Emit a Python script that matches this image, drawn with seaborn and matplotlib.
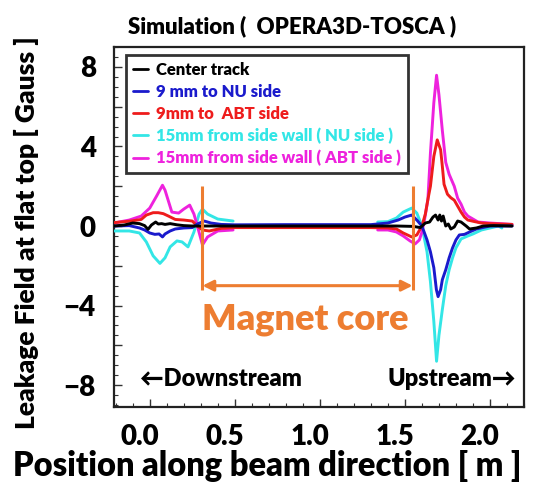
import numpy as np
import pandas as pd
import matplotlib
matplotlib.use("Agg")
import matplotlib.pyplot as plt
import seaborn as sns
from matplotlib.lines import Line2D
from matplotlib.transforms import ScaledTranslation
from matplotlib.ticker import MultipleLocator

# ---------------- data ----------------
series_names = ["Center track", "9 mm to NU side", "9mm to  ABT side",
                "15mm from side wall ( NU side )", "15mm from side wall ( ABT side )"]
series_colors = ["#000000", "#1a1acc", "#ee1c1c", "#33e6e6", "#ee22dd"]

center_x = [-0.21, -0.15, -0.10, -0.06, -0.03, -0.01, 0.01, 0.035, 0.05, 0.07, 0.09, 0.12, 0.16,
            0.20, 0.25, 0.30, 0.40, 0.60, 0.90, 1.20, 1.45, 1.55, 1.59, 1.62, 1.645, 1.665, 1.68,
            1.695, 1.705, 1.715, 1.725, 1.74, 1.755, 1.77, 1.79, 1.81, 1.83, 1.86, 1.88, 1.92,
            1.96, 2.02, 2.13]
center_y = [0.0, 0.05, 0.15, 0.12, 0.02, -0.17, 0.05, 0.2, 0.1, 0.12, 0.08, 0.12, 0.06,
            0.02, 0.0, 0.0, 0.0, 0.0, 0.0, 0.0, 0.0, -0.02, -0.08, 0.15, 0.2, 0.45, 0.55,
            0.3, 0.55, 0.25, 0.5, 0.0, 0.1, -0.15, -0.05, 0.25, 0.2, 0.0, -0.15, -0.1,
            0.0, 0.02, 0.0]

nu9_x = [-0.21, -0.12, -0.06, -0.03, 0.0, 0.03, 0.055, 0.075, 0.09, 0.12, 0.15, 0.20, 0.25,
         0.28, 0.32, 0.36, 0.42, 0.50, 0.80, 1.10, 1.30, 1.40, 1.46, 1.50, 1.54, 1.57, 1.60,
         1.63, 1.65, 1.67, 1.685, 1.695, 1.71, 1.72, 1.74, 1.76, 1.78, 1.80, 1.82, 1.85, 1.88,
         1.92, 2.00, 2.13]
nu9_y = [0.0, 0.02, -0.1, -0.2, -0.35, -0.42, -0.4, -0.55, -0.4, -0.25, -0.15, -0.1, -0.08,
         0.1, 0.25, 0.15, 0.08, 0.06, 0.07, 0.07, 0.07, 0.15, 0.3, 0.45, 0.55, 0.3, 0.0,
         -0.7, -1.3, -2.1, -3.2, -3.55, -3.2, -2.7, -2.2, -1.6, -1.1, -0.7, -0.45, -0.42, -0.3,
         -0.15, 0.0, 0.0]

abt9_x = [-0.21, -0.11, -0.05, -0.02, 0.02, 0.05, 0.08, 0.11, 0.15, 0.20, 0.25, 0.28, 0.31,
          0.35, 0.42, 0.50, 0.80, 1.10, 1.30, 1.40, 1.45, 1.49, 1.54, 1.57, 1.60, 1.62, 1.635,
          1.65, 1.67, 1.69, 1.71, 1.72, 1.73, 1.75, 1.77, 1.79, 1.81, 1.83, 1.85, 1.87, 1.91,
          1.95, 2.00, 2.13]
abt9_y = [0.17, 0.25, 0.33, 0.55, 0.67, 0.67, 0.62, 0.5, 0.33, 0.3, 0.25, 0.0, -0.2,
          -0.25, -0.12, -0.08, -0.08, -0.08, -0.08, -0.1, -0.15, -0.35, -0.55, -0.45, 0.0, 0.6, 1.33,
          2.0, 3.5, 4.33, 3.83, 3.0, 2.1, 1.6, 1.42, 1.3, 1.0, 0.7, 0.45, 0.3, 0.22,
          0.15, 0.12, 0.08]

nu15_left_x = [-0.21, -0.12, -0.06, -0.02, 0.02, 0.06, 0.09, 0.12, 0.16, 0.19, 0.225, 0.26,
               0.29, 0.31, 0.34, 0.40, 0.49]
nu15_left_y = [-0.25, -0.25, -0.35, -0.8, -1.5, -1.88, -1.6, -1.05, -0.75, -0.8, -1.05, -0.3,
               0.6, 0.85, 0.6, 0.35, 0.25]
nu15_right_x = [1.34, 1.40, 1.45, 1.49, 1.54, 1.57, 1.60, 1.63, 1.65, 1.67, 1.686, 1.70, 1.72,
                1.74, 1.76, 1.78, 1.80, 1.83, 1.87, 1.90, 1.95, 2.00, 2.05, 2.07]
nu15_right_y = [0.2, 0.22, 0.4, 0.7, 0.9, 0.65, 0.0, -1.3, -2.8, -4.8, -6.8, -5.5, -4.2,
                -3.0, -2.2, -1.6, -1.1, -0.65, -0.5, -0.4, -0.2, -0.1, 0.0, -0.1]

abt15_left_x = [-0.21, -0.12, -0.05, 0.0, 0.04, 0.075, 0.09, 0.13, 0.17, 0.20, 0.235, 0.26,
                0.28, 0.31, 0.34, 0.40, 0.49]
abt15_left_y = [0.15, 0.3, 0.5, 0.9, 1.5, 2.05, 1.8, 0.7, 0.65, 0.85, 1.05, 0.6,
                0.0, -0.95, -0.55, -0.25, -0.2]
abt15_right_x = [1.34, 1.40, 1.45, 1.49, 1.53, 1.56, 1.585, 1.60, 1.615, 1.635, 1.65, 1.67,
                 1.686, 1.70, 1.72, 1.74, 1.76, 1.79, 1.81, 1.83, 1.85, 1.87, 1.90, 1.93,
                 2.00, 2.13]
abt15_right_y = [-0.2, -0.2, -0.3, -0.5, -0.75, -0.9, -0.7, -0.3, 0.3, 1.33, 3.67, 6.2,
                 7.58, 6.6, 4.8, 3.2, 2.6, 2.0, 1.4, 1.1, 0.7, 0.5, 0.35, 0.2,
                 0.15, 0.08]

x_tick_values = [0.0, 0.5, 1.0, 1.5, 2.0]
x_tick_labels = ["0.0", "0.5", "1.0", "1.5", "2.0"]
y_tick_values = [-8, -6, -4, -2, 0, 2, 4, 6, 8]
y_tick_labels = ["\u22128", "", "\u22124", "", "0", "", "4", "", "8"]

core_edges = [0.31, 1.545]
core_line_span = (-3.2, 2.0)
core_arrow_y = -3.0

# ---------------- build table ----------------
segments = [
    (series_names[0], "c", center_x, center_y),
    (series_names[1], "b", nu9_x, nu9_y),
    (series_names[2], "r", abt9_x, abt9_y),
    (series_names[3], "cl", nu15_left_x, nu15_left_y),
    (series_names[3], "cr", nu15_right_x, nu15_right_y),
    (series_names[4], "ml", abt15_left_x, abt15_left_y),
    (series_names[4], "mr", abt15_right_x, abt15_right_y),
]
rows = []
for name, seg, xs, ys in segments:
    for xv, yv in zip(xs, ys):
        rows.append({"series": name, "segment": seg, "x": xv, "y": yv})
df = pd.DataFrame(rows)

sns.set_style("white")
plt.rcParams["font.family"] = ["Lato", "DejaVu Sans"]
plt.rcParams["font.weight"] = "heavy"
plt.rcParams["axes.unicode_minus"] = True
plt.rcParams["text.color"] = "black"
plt.rcParams["xtick.color"] = "black"
plt.rcParams["ytick.color"] = "black"
plt.rcParams["xtick.labelcolor"] = "black"
plt.rcParams["ytick.labelcolor"] = "black"

W = "heavy"

fig = plt.figure(figsize=(5.34, 4.84), dpi=100)
ax = fig.add_axes([114 / 534, 1 - 407 / 484, 410 / 534, 360 / 484])

palette = dict(zip(series_names, series_colors))
draw_order = [series_names[3], series_names[4], series_names[2], series_names[1], series_names[0]]
for i, name in enumerate(draw_order):
    sub = df[df["series"] == name]
    sns.lineplot(data=sub, x="x", y="y", units="segment", estimator=None, sort=False,
                 color=palette[name], linewidth=2.1, legend=False, ax=ax, zorder=3 + i)

ax.set_xlim(-0.21, 2.2)
ax.set_ylim(-9.1, 9.0)
ax.set_xlabel("")
ax.set_ylabel("")

ax.set_xticks(x_tick_values)
ax.set_xticklabels(x_tick_labels)
ax.set_yticks(y_tick_values)
ax.set_yticklabels(y_tick_labels)
ax.xaxis.set_minor_locator(MultipleLocator(0.1))
ax.yaxis.set_minor_locator(MultipleLocator(0.5))
ax.tick_params(axis="both", which="both", direction="in", bottom=True, left=True,
               top=False, right=False, color="#333333")
ax.tick_params(axis="both", which="major", length=6, width=1.0, labelsize=20)
ax.tick_params(axis="both", which="minor", length=3, width=0.8)
ax.tick_params(axis="x", which="major", pad=12)
ax.tick_params(axis="y", which="major", pad=13)
for lab in ax.get_xticklabels():
    lab.set_fontweight(W)
    lab.set_transform(lab.get_transform() + ScaledTranslation(-10 / 100, 0, fig.dpi_scale_trans))
for lab in ax.get_yticklabels():
    lab.set_fontweight(W)

for sp in ax.spines.values():
    sp.set_visible(True)
    sp.set_linewidth(1.6)
    sp.set_color("#222222")

# magnet core annotation
orange = "#ed7d31"
ax.vlines(core_edges, core_line_span[0], core_line_span[1], color=orange, linewidth=2.2, zorder=10)
ax.annotate("", xy=(core_edges[0], core_arrow_y), xytext=(core_edges[1], core_arrow_y),
            arrowprops=dict(arrowstyle="<|-|>", color=orange, lw=2.2, shrinkA=0, shrinkB=0,
                            mutation_scale=16), zorder=10)
ax.text(0.915, -4.7, "Magnet core", color=orange, fontsize=26, fontweight=W,
        ha="center", va="center")
ax.text(-0.06, -7.7, "\u2190Downstream", color="black", fontsize=17, fontweight=W,
        ha="left", va="center")
ax.text(2.155, -7.7, "Upstream\u2192", color="black", fontsize=17, fontweight=W,
        ha="right", va="center")

# legend
handles = [Line2D([0], [0], color=c, lw=2) for c in series_colors]
leg = ax.legend(handles, series_names, loc="upper left", bbox_to_anchor=(12 / 410, 1 - 8 / 360),
                borderaxespad=0, frameon=True, fancybox=False, edgecolor="black",
                handlelength=0.9, handletextpad=0.5, labelspacing=0.36,
                borderpad=0.4, labelcolor="linecolor", prop={"weight": W, "size": 12})
leg.get_frame().set_linewidth(2.0)
leg.set_zorder(20)

fig.text(292 / 534, 1 - 26 / 484, "Simulation (  OPERA3D-TOSCA )", ha="center", va="center",
         fontsize=16, fontweight=W)
fig.text(0.5, 1 - 466 / 484, "Position along beam direction [ m ]", ha="center", va="center",
         fontsize=23.5, fontweight=W)
fig.text(26 / 534, 1 - 233 / 484, "Leakage Field at flat top [ Gauss ]", ha="center", va="center",
         rotation=90, fontsize=19, fontweight=W)

fig.savefig("out.png", dpi=100)
